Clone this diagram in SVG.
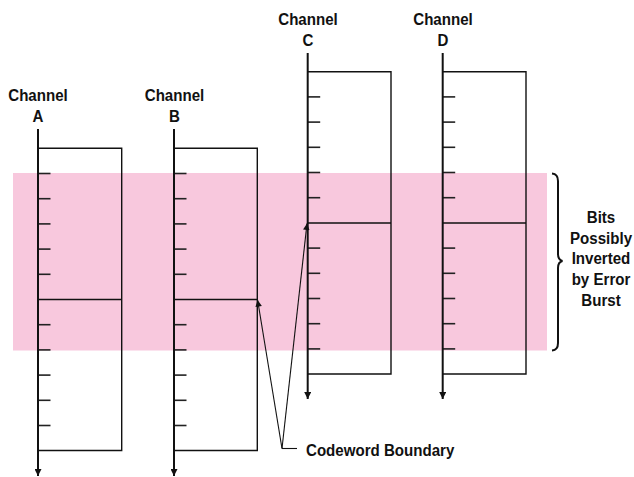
<svg xmlns="http://www.w3.org/2000/svg" width="634" height="477" viewBox="0 0 634 477">
  <style>
    .lbl { font-family: "Liberation Sans", Arial, sans-serif; font-weight: bold; font-size: 17px; fill: #111; }
    .mid { text-anchor: middle; }
    .axis { stroke: #111; stroke-width: 2; fill: none; }
    .frame { stroke: #111; stroke-width: 1.4; fill: none; }
    .tick { stroke: #222; stroke-width: 1.6; }
    .lead { stroke: #111; stroke-width: 1.1; fill: none; }
  </style>
  <defs>
    <marker id="axisHead" viewBox="0 0 10 10" refX="10" refY="5" markerWidth="10" markerHeight="7" markerUnits="userSpaceOnUse" orient="auto">
      <path d="M0,0 L10,5 L0,10 Z" fill="#111"/>
    </marker>
    <marker id="leadHead" viewBox="0 0 10 10" refX="10" refY="5" markerWidth="11" markerHeight="6.5" markerUnits="userSpaceOnUse" orient="auto">
      <path d="M0,0 L10,5 L0,10 Z" fill="#111"/>
    </marker>
    <!-- 12 bit cells of 25.2 px, ticks on the axis side; the 6th boundary is the codeword boundary -->
    <g id="ticks">
      <line class="tick" x1="0" y1="25.2" x2="12.5" y2="25.2"/>
      <line class="tick" x1="0" y1="50.4" x2="12.5" y2="50.4"/>
      <line class="tick" x1="0" y1="75.6" x2="12.5" y2="75.6"/>
      <line class="tick" x1="0" y1="100.8" x2="12.5" y2="100.8"/>
      <line class="tick" x1="0" y1="126" x2="12.5" y2="126"/>
      <line class="tick" x1="0" y1="176.4" x2="12.5" y2="176.4"/>
      <line class="tick" x1="0" y1="201.6" x2="12.5" y2="201.6"/>
      <line class="tick" x1="0" y1="226.8" x2="12.5" y2="226.8"/>
      <line class="tick" x1="0" y1="252" x2="12.5" y2="252"/>
      <line class="tick" x1="0" y1="277.2" x2="12.5" y2="277.2"/>
    </g>
  </defs>

  <rect width="634" height="477" fill="#fff"/>

  <!-- error burst region -->
  <g id="burst-region">
    <rect x="13" y="173" width="534" height="177.5" fill="#F8C8DD"/>
    <path class="axis" d="M552,173.5 Q558,174 558,181 L558,254 Q558,260 562.5,261 Q558,262 558,268 L558,343 Q558,350 552,350.5"/>
    <!-- labels set in a narrowed bold face -->
    <g transform="matrix(0.888,0,0,1,601,0)">
      <text class="lbl mid" x="0" y="223">Bits</text>
      <text class="lbl mid" x="0" y="244">Possibly</text>
      <text class="lbl mid" x="0" y="264.5">Inverted</text>
      <text class="lbl mid" x="0" y="285">by Error</text>
      <text class="lbl mid" x="0" y="306">Burst</text>
    </g>
  </g>

  <g id="channel-a">
    <g transform="matrix(0.888,0,0,1,38,0)">
      <text class="lbl mid" x="0" y="101.5">Channel</text>
      <text class="lbl mid" x="0" y="122.5">A</text>
    </g>
    <path class="frame" d="M38,148.3 H121.7 V450.5 H38 M38,299.5 H121.7"/>
    <use href="#ticks" x="38" y="148.3"/>
    <line class="axis" x1="38" y1="129" x2="38" y2="476" marker-end="url(#axisHead)"/>
  </g>

  <g id="channel-b">
    <g transform="matrix(0.888,0,0,1,174.5,0)">
      <text class="lbl mid" x="0" y="101.5">Channel</text>
      <text class="lbl mid" x="0" y="122.5">B</text>
    </g>
    <path class="frame" d="M174,148.3 H257.3 V450.5 H174 M174,299.5 H257.3"/>
    <use href="#ticks" x="174" y="148.3"/>
    <line class="axis" x1="174" y1="129" x2="174" y2="476" marker-end="url(#axisHead)"/>
  </g>

  <g id="channel-c">
    <g transform="matrix(0.888,0,0,1,308,0)">
      <text class="lbl mid" x="0" y="25">Channel</text>
      <text class="lbl mid" x="0" y="46.5">C</text>
    </g>
    <path class="frame" d="M307.7,71.7 H391 V374 H307.7 M307.7,223 H391"/>
    <use href="#ticks" x="307.7" y="71.7"/>
    <line class="axis" x1="307.7" y1="53" x2="307.7" y2="399" marker-end="url(#axisHead)"/>
  </g>

  <g id="channel-d">
    <g transform="matrix(0.888,0,0,1,443,0)">
      <text class="lbl mid" x="0" y="25">Channel</text>
      <text class="lbl mid" x="0" y="46.5">D</text>
    </g>
    <path class="frame" d="M442.7,71.7 H526 V374 H442.7 M442.7,223 H526"/>
    <use href="#ticks" x="442.7" y="71.7"/>
    <line class="axis" x1="442.7" y1="53" x2="442.7" y2="399" marker-end="url(#axisHead)"/>
  </g>

  <!-- codeword boundary callout -->
  <g id="connectors">
    <line class="lead" x1="282" y1="448.5" x2="297" y2="448.5"/>
    <line class="lead" x1="282" y1="448.5" x2="257.6" y2="300" marker-end="url(#leadHead)"/>
    <line class="lead" x1="282" y1="448.5" x2="307" y2="223.5" marker-end="url(#leadHead)"/>
  </g>
  <g id="codeword-boundary-label">
    <g transform="matrix(0.888,0,0,1,306,0)">
      <text class="lbl" x="0" y="456.5">Codeword Boundary</text>
    </g>
  </g>
</svg>
